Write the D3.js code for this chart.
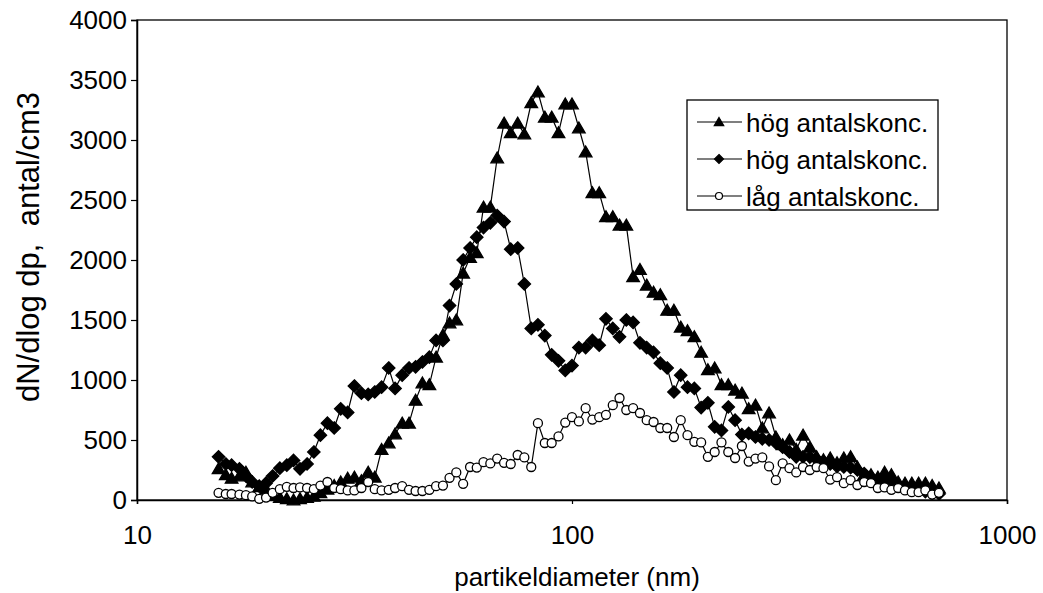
<!DOCTYPE html>
<html>
<head>
<meta charset="utf-8">
<script src="https://cdn.jsdelivr.net/npm/d3@7/dist/d3.min.js"></script>
<style>
  html, body { margin: 0; padding: 0; background: #fff; }
  svg { display: block; }
  text { font-family: "Liberation Sans", Arial, sans-serif; fill: #000; }
</style>
</head>
<body>
<svg id="chart" width="1043" height="593"></svg>
<script>
// Particle diameters (nm), SMPS channels
const diameters = [
  15.4, 16.0, 16.5, 17.2, 17.8, 18.4, 19.1, 19.8, 20.5, 21.3, 22.1, 22.9, 23.7, 24.6, 25.5, 26.4,
  27.4, 28.4, 29.4, 30.5, 31.6, 32.8, 34.0, 35.2, 36.5, 37.9, 39.2, 40.7, 42.2, 43.7, 45.3, 47.0,
  48.7, 50.5, 52.3, 54.2, 56.2, 58.3, 60.4, 62.6, 64.9, 67.3, 69.8, 72.3, 75.0, 77.7, 80.6, 83.5,
  86.6, 89.8, 93.1, 96.5, 100.0, 103.7, 107.5, 111.4, 115.5, 119.7, 124.1, 128.6, 133.3, 138.2,
  143.3, 148.5, 154.0, 159.6, 165.5, 171.5, 177.8, 184.3, 191.1, 198.1, 205.3, 212.8, 220.6, 228.7,
  237.1, 245.8, 254.8, 264.1, 273.8, 283.8, 294.2, 305.0, 316.2, 327.7, 339.7, 352.2, 365.1, 378.5,
  392.3, 406.7, 421.6, 437.0, 453.0, 469.6, 486.8, 504.7, 523.1, 542.3, 562.2, 582.7, 604.1, 626.2,
  649.1, 672.9, 697.6
];

// dN/dlog dp, antal/cm3 — high number concentration (triangles)
const hogTriangel = [
  260, 210, 180, 200, 230, 150, 110, 90, 40, 20, 10, 0, 10, 20, 30, 60,
  90, 120, 150, 180, 190, 160, 230, 190, 420, 475, 550, 640, 640, 830, 975, 960,
  1190, 1375, 1475, 1500, 1890, 2020, 2060, 2440, 2440, 2850, 3140, 3060, 3140, 3050, 3310, 3400,
  3190, 3190, 3060, 3300, 3300, 3100, 2900, 2560, 2560, 2360, 2360, 2290, 2290, 1860,
  1920, 1790, 1730, 1710, 1580, 1580, 1440, 1410, 1360, 1230, 1085, 1100, 960, 960,
  915, 890, 760, 790, 600, 725, 525, 460, 500, 420, 540, 440, 360, 335,
  350, 310, 350, 360, 275, 210, 210, 190, 230, 210, 150, 140, 140, 140,
  140, 120, 100
];

// high number concentration (diamonds)
const hogRuter = [
  360, 300, 290, 260, 200, 150, 115, 140, 200, 265, 290, 330, 260, 300, 400, 540,
  640, 600, 760, 730, 950, 890, 880, 900, 940, 1100, 930, 1040, 1100, 1110, 1150, 1190,
  1330, 1330, 1620, 1800, 2000, 2100, 2190, 2270, 2310, 2370, 2320, 2090, 2100, 1800, 1430, 1460,
  1370, 1210, 1160, 1080, 1120, 1270, 1270, 1330, 1290, 1510, 1430, 1360, 1500, 1480,
  1310, 1270, 1230, 1140, 1100, 900, 1040, 940, 930, 770, 810, 610, 580, 775,
  665, 545, 555, 525, 510, 500, 475, 440, 400, 360, 360, 358, 340, 320,
  300, 280, 275, 270, 250, 220, 190, 170, 155, 140, 120, 110, 95, 85,
  70, 58, 50
];

// low number concentration (open circles)
const lagCirkel = [
  60, 50, 50, 45, 40, 30, 10, 20, 60, 90, 110, 100, 105, 100, 90, 120,
  150, 100, 90, 80, 80, 100, 150, 90, 80, 85, 100, 115, 85, 75, 75, 85,
  115, 120, 185, 230, 135, 275, 270, 315, 305, 345, 310, 300, 375, 355, 275, 640,
  475, 475, 530, 645, 690, 655, 765, 670, 690, 710, 790, 850, 750, 765,
  725, 665, 650, 600, 600, 525, 665, 540, 485, 480, 360, 400, 480, 400,
  350, 450, 320, 345, 355, 280, 165, 305, 265, 230, 275, 250, 275, 265,
  170, 190, 140, 165, 125, 150, 140, 100, 105, 85, 100, 80, 65, 65,
  80, 45, 60
];

const xTicks = [10, 100, 1000];
const yTicks = [0, 500, 1000, 1500, 2000, 2500, 3000, 3500, 4000];
const legendLabels = ["hög antalskonc.", "hög antalskonc.", "låg antalskonc."];

const svg = d3.select("#chart");
const plotLeft = 137, plotRight = 1007, plotTop = 20, plotBottom = 500;
const fontSize = 26;

const x = d3.scaleLog().domain([10, 1000]).range([plotLeft, plotRight]);
const y = d3.scaleLinear().domain([0, 4000]).range([plotBottom, plotTop]);

// Marker shapes
const markers = {
  triangle: r => `M0,${-r}L${r * 1.05},${r * 0.8}L${-r * 1.05},${r * 0.8}Z`,
  diamond: r => `M0,${-r}L${r},0L0,${r}L${-r},0Z`,
  circle: r => `M${r},0A${r},${r} 0 1,1 ${-r},0A${r},${r} 0 1,1 ${r},0Z`
};

const series = [
  { name: legendLabels[0], values: hogTriangel, shape: "triangle", r: 6, fill: "#000" },
  { name: legendLabels[1], values: hogRuter, shape: "diamond", r: 6.2, fill: "#000" },
  { name: legendLabels[2], values: lagCirkel, shape: "circle", r: 4.5, fill: "#fff" }
];

// Plot frame
svg.append("rect")
  .attr("x", plotLeft).attr("y", plotTop)
  .attr("width", plotRight - plotLeft).attr("height", plotBottom - plotTop)
  .attr("fill", "none").attr("stroke", "#000").attr("stroke-width", 1.3);

// Y axis
const yAxis = d3.axisLeft(y).tickValues(yTicks).tickSize(6).tickPadding(4).tickFormat(d3.format("d"));
const gy = svg.append("g").attr("transform", `translate(${plotLeft},0)`).call(yAxis);
gy.select(".domain").attr("stroke-width", 1.5);
gy.selectAll(".tick line").attr("stroke-width", 1.2);
gy.selectAll("text").attr("font-size", fontSize).style("font-family", '"Liberation Sans", Arial, sans-serif');

// X axis
const xAxis = d3.axisBottom(x).tickValues(xTicks).tickSize(4).tickPadding(22).tickFormat(d3.format("d"));
const gx = svg.append("g").attr("transform", `translate(0,${plotBottom})`).call(xAxis);
gx.select(".domain").attr("stroke-width", 1.5);
gx.selectAll(".tick line").attr("stroke-width", 1.2);
gx.selectAll("text").attr("font-size", fontSize).style("font-family", '"Liberation Sans", Arial, sans-serif');

// Axis titles
svg.append("text")
  .attr("x", (plotLeft + plotRight) / 2 + 5).attr("y", 586)
  .attr("text-anchor", "middle").attr("font-size", fontSize)
  .text("partikeldiameter (nm)");

svg.append("text")
  .attr("transform", `translate(39,${(plotTop + plotBottom) / 2 - 13}) rotate(-90)`)
  .attr("text-anchor", "middle").attr("font-size", 31)
  .attr("xml:space", "preserve")
  .text("dN/dlog dp,  antal/cm3");

// Series lines and markers
const line = d3.line().x(d => x(d[0])).y(d => y(d[1]));
series.forEach(s => {
  const pts = diameters.map((d, i) => [d, s.values[i]]);
  const g = svg.append("g");
  g.append("path").datum(pts)
    .attr("d", line).attr("fill", "none").attr("stroke", "#000").attr("stroke-width", 1.2);
  g.selectAll("path.m").data(pts).enter().append("path")
    .attr("class", "m")
    .attr("transform", d => `translate(${x(d[0])},${y(d[1])})`)
    .attr("d", markers[s.shape](s.r))
    .attr("fill", s.fill).attr("stroke", "#000").attr("stroke-width", 1.3);
});

// Legend
const lg = svg.append("g");
lg.append("rect").attr("x", 687).attr("y", 100).attr("width", 251).attr("height", 110)
  .attr("fill", "#fff").attr("stroke", "#000").attr("stroke-width", 1.3);
series.forEach((s, i) => {
  const cy = 122 + i * 37;
  lg.append("line").attr("x1", 697).attr("x2", 742).attr("y1", cy).attr("y2", cy)
    .attr("stroke", "#000").attr("stroke-width", 1.2);
  lg.append("path").attr("transform", `translate(719,${cy})`)
    .attr("d", markers[s.shape](s.shape === "circle" ? 3.5 : 4.5))
    .attr("fill", s.fill).attr("stroke", "#000").attr("stroke-width", 1.2);
  lg.append("text").attr("x", 746).attr("y", cy + 10).attr("font-size", fontSize).text(s.name);
});
</script>
</body>
</html>
